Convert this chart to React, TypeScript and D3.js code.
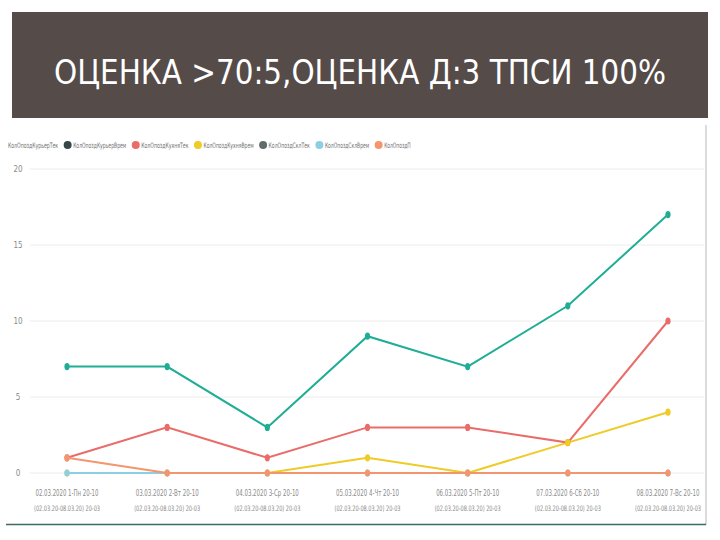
import React from "react";
import * as d3 from "d3";

const title = "ОЦЕНКА >70:5,ОЦЕНКА Д:3 ТПСИ 100%";
const categoriesLine1 = [
  "02.03.2020 1-Пн 20-10",
  "03.03.2020 2-Вт 20-10",
  "04.03.2020 3-Ср 20-10",
  "05.03.2020 4-Чт 20-10",
  "06.03.2020 5-Пт 20-10",
  "07.03.2020 6-Сб 20-10",
  "08.03.2020 7-Вс 20-10",
];
const categoriesLine2 = [
  "(02.03.20-08.03.20) 20-03",
  "(02.03.20-08.03.20) 20-03",
  "(02.03.20-08.03.20) 20-03",
  "(02.03.20-08.03.20) 20-03",
  "(02.03.20-08.03.20) 20-03",
  "(02.03.20-08.03.20) 20-03",
  "(02.03.20-08.03.20) 20-03",
];
const yTicks = [0, 5, 10, 15, 20];

const seriesNames = [
  "КолОпоздКурьерТек",
  "КолОпоздКурьерВрем",
  "КолОпоздКухняТек",
  "КолОпоздКухняВрем",
  "КолОпоздСклТек",
  "КолОпоздСклВрем",
  "КолОпоздП",
];
const seriesColors = ["#1fae95", "#374649", "#e96c69", "#eecb25", "#5f6b6d", "#8ccfe3", "#f3956d"];
const kurierTek = [7, 7, 3, 9, 7, 11, 17];
const kurierVrem = [0, 0, 0, 0, 0, 0, 0];
const kuhnyaTek = [1, 3, 1, 3, 3, 2, 10];
const kuhnyaVrem = [0, 0, 0, 1, 0, 2, 4];
const sklTek = [0, 0, 0, 0, 0, 0, 0];
const sklVrem = [0, 0, 0, 0, 0, 0, 0];
const prochTek = [1, 0, 0, 0, 0, 0, 0];
const seriesValues = [kurierTek, kurierVrem, kuhnyaTek, kuhnyaVrem, sklTek, sklVrem, prochTek];
// series drawn as lines (the two all-zero dark series are hidden beneath and only show in the legend)
const drawnSeries = [0, 2, 3, 5, 6];

export default function App() {
  const W = 720;
  const H = 540;
  const x = d3.scalePoint<string>().domain(categoriesLine1).range([67, 668]);
  const y = d3.scaleLinear().domain([0, 20]).range([473, 169]);
  const line = d3
    .line<number>()
    .x((_, i) => x(categoriesLine1[i]) as number)
    .y((d) => y(d));

  const font = "'DejaVu Sans Condensed', 'Liberation Sans Narrow', 'Open Sans', sans-serif";

  const charW = 2.95;
  const gap = 15;
  const legendStarts: number[] = [];
  let cur = 8;
  seriesNames.forEach((n) => {
    legendStarts.push(cur);
    cur += n.length * charW + gap;
  });

  return (
    <svg
      width={W}
      height={H}
      style={{ position: "absolute", left: 0, top: 0, display: "block", background: "#fff" }}
    >
      <rect x={12} y={12} width={696} height={106} fill="#554b49" />
      <text
        x={360}
        y={84}
        textAnchor="middle"
        fill="#ffffff"
        fontFamily={font}
        fontSize={33}
        textLength={612}
        lengthAdjust="spacingAndGlyphs"
      >
        {title}
      </text>

      <line x1={706} x2={706} y1={125} y2={525} stroke="#cfcfcf" strokeWidth={1.5} />
      <line x1={6} x2={706} y1={524.5} y2={524.5} stroke="#3c6b62" strokeWidth={1.5} />

      {seriesNames.map((n, i) => (
        <g key={n}>
          {i > 0 && <circle cx={legendStarts[i] - 5.5} cy={145} r={4} fill={seriesColors[i]} />}
          <text
            x={legendStarts[i]}
            y={148}
            fontFamily={font}
            fontSize={7.5}
            fill="#6f6f6f"
            textLength={n.length * charW}
            lengthAdjust="spacingAndGlyphs"
          >
            {n}
          </text>
        </g>
      ))}

      {yTicks.map((t) => (
        <g key={t}>
          <line x1={30} x2={704} y1={y(t)} y2={y(t)} stroke="#ececec" strokeWidth={1} />
          <text x={18} y={y(t) + 3} textAnchor="middle" fontFamily={font} fontSize={8} fill="#8a8a8a">
            {t}
          </text>
        </g>
      ))}

      {categoriesLine1.map((c, i) => (
        <g key={c}>
          <text
            x={x(c) as number}
            y={496}
            textAnchor="middle"
            fontFamily={font}
            fontSize={8}
            fill="#8a8a8a"
            textLength={63}
            lengthAdjust="spacingAndGlyphs"
          >
            {c}
          </text>
          <text
            x={x(c) as number}
            y={511}
            textAnchor="middle"
            fontFamily={font}
            fontSize={7.5}
            fill="#8a8a8a"
            textLength={66}
            lengthAdjust="spacingAndGlyphs"
          >
            {categoriesLine2[i]}
          </text>
        </g>
      ))}

      {drawnSeries.map((si) => (
        <g key={si}>
          <path d={line(seriesValues[si]) || ""} fill="none" stroke={seriesColors[si]} strokeWidth={2} />
          {seriesValues[si].map((v, i) => (
            <ellipse
              key={i}
              cx={x(categoriesLine1[i]) as number}
              cy={y(v)}
              rx={2.6}
              ry={3.6}
              fill={seriesColors[si]}
            />
          ))}
        </g>
      ))}
    </svg>
  );
}
